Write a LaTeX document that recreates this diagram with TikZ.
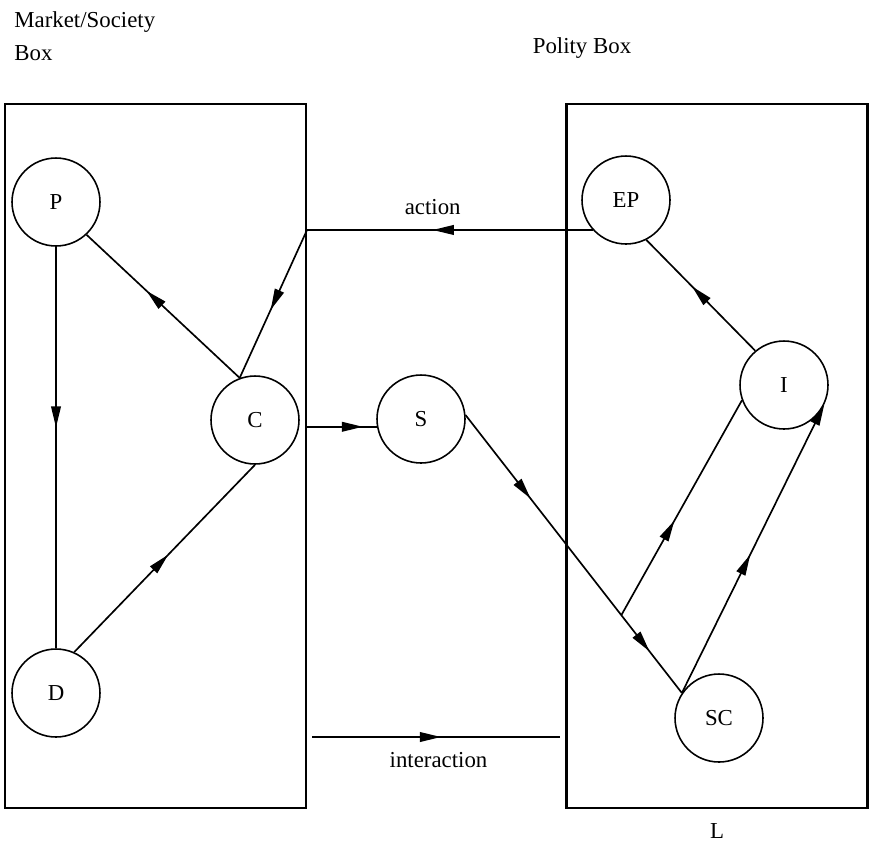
\documentclass[tikz,border=0pt]{standalone}
\usepackage{fontspec}
\setmainfont{Liberation Serif}
\usetikzlibrary{arrows.meta, decorations.markings}

\begin{document}
\begin{tikzpicture}[x=0.02cm, y=-0.02cm,
    >={Triangle[length=12pt,width=5.5pt]},
    every node/.append style={font=\fontsize{13}{15}\selectfont},
    state/.style={draw, circle, line width=0.9pt, minimum size=1.76cm, inner sep=0pt},
    panel/.style={draw, line width=1.2pt, minimum width=6.02cm, minimum height=14.08cm},
    caption/.style={inner sep=0pt},
    flow/.style={line width=0.95pt, postaction={decorate, decoration={markings, mark=at position #1 with {\arrow{>}}}}}]
            \useasboundingbox (0,0) rectangle (872,843);

            % the two boxes and their titles
            \node[panel] (market) at (155.5,456) {};
            \node[panel] (polity) at (717,456) {};
            \node[caption, anchor=base west] (mstitle) at (14,27) {Market/Society};
            \node[caption, anchor=base west] (msbox) at (14,60) {Box};
            \node[caption, anchor=base] (ptitle) at (582,53) {Polity Box};
            \node[caption, anchor=base] (ltag) at (717,838) {L};

            % actors
            \node[state] (P) at (56,202) {P};
            \node[state] (D) at (56,693) {D};
            \node[state] (C) at (255,420) {C};
            \node[state] (S) at (421,419) {S};
            \node[state] (EP) at (626,200) {EP};
            \node[state] (I) at (784,385) {I};
            \node[state] (SC) at (719,718) {SC};

            \coordinate (actend) at (EP.222 -| market.east);
            \coordinate (csstart) at (S.190 -| market.east);
            \coordinate (intstart) at (312,737);
            \coordinate (intend) at (560,737);
            \path (S.5) -- (SC.146) coordinate[pos=0.72] (fork);

            % market/society side
            \draw[flow=0.45] (P.south) -- (D.north);
            \draw[flow=0.52] (D.66) -- (C.south);
            \draw[flow=0.61] (C.110) -- (P.-47);
            \draw[flow=0.54] (actend) -- (C.110);

            % between the boxes
            \draw[flow=0.56] (EP.222) -- node[caption, pos=0.56, anchor=base, yshift=9pt] {action} (actend);
            \draw[flow=0.8] (csstart) -- (S.190);
            \draw[flow=0.52] (intstart) -- node[caption, pos=0.51, anchor=base, yshift=-17.6pt] {interaction} (intend);

            % polity side
            \draw[flow=0.58] (I.130) -- (EP.-63);
            \draw[flow=0.3, flow=0.85] (S.5) -- (SC.146);
            \draw[flow=0.44] (fork) -- (I.200);
            \draw[flow=0.48, ->] (SC.146) -- (I.-26);
        \end{tikzpicture}
\end{document}
